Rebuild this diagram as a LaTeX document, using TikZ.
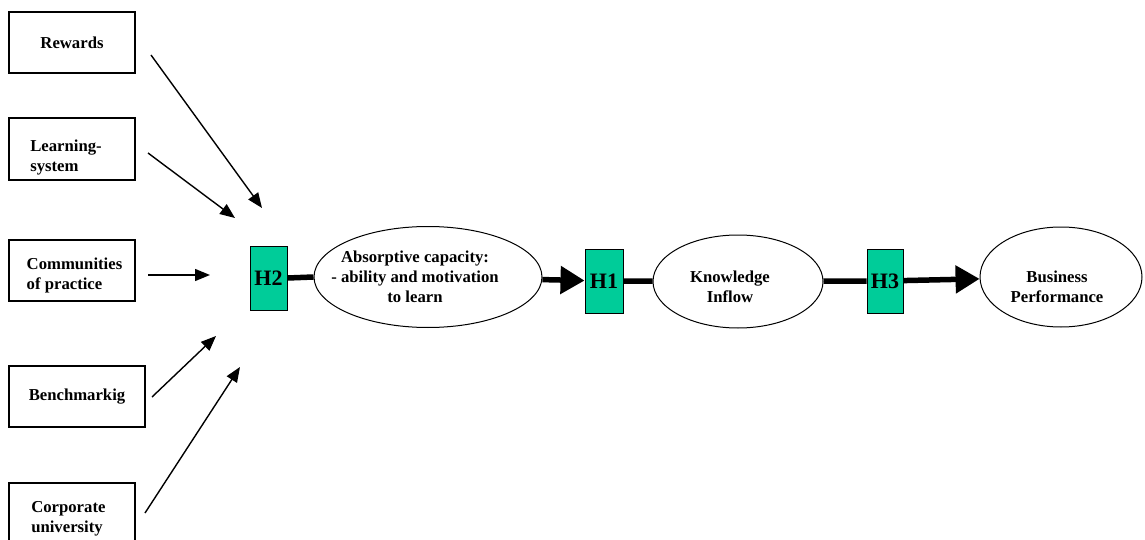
\documentclass[tikz,border=0pt]{standalone}
\usepackage{fontspec}
\setmainfont{Liberation Serif}
\usetikzlibrary{arrows.meta,shapes.geometric}
\definecolor{hteal}{HTML}{00CC99}
\begin{document}
\begin{tikzpicture}[x=1pt,y=-1pt,
  every node/.style={font=\bfseries\fontsize{16.7}{20}\selectfont},
  srcbox/.style={draw, line width=1.3pt, rectangle, align=left, inner sep=0pt},
  hbox/.style={draw, line width=1pt, fill=hteal, minimum width=37pt, minimum height=64pt, inner sep=0pt, font=\bfseries\fontsize{22}{24}\selectfont},
  oval/.style={draw, line width=1pt, ellipse, inner sep=0pt},
  lbl/.style={align=center, inner sep=0pt},
  thinarrow/.style={line width=1.4pt, -{Triangle[length=15pt,width=12pt]}},
  thickline/.style={line width=5.5pt},
  thickarrow/.style={line width=5.5pt, -{Triangle[length=24pt,width=27pt]}}
]
\useasboundingbox (0,0) rectangle (1145,540);
\clip (0,0) rectangle (1145,540);

% source boxes
\node[srcbox, minimum width=126pt, minimum height=61pt] (rew) at (72,42.5) {Rewards};
\node[srcbox, minimum width=126pt, minimum height=62pt] (lrn) at (72,149) {\rule{0pt}{29pt}Learning-\hspace*{12pt}\\system};
\node[srcbox, minimum width=126pt, minimum height=61pt] (com) at (72,270.5) {\hspace*{5pt}\rule{0pt}{22pt}Communities\\\hspace*{5pt}of practice};
\node[srcbox, minimum width=136pt, minimum height=61pt] (ben) at (77,396.5) {Benchmarkig};
\node[srcbox, minimum width=126pt, minimum height=62pt] (cor) at (72,514) {\rule{0pt}{20pt}Corporate\\university\hspace*{10pt}};

% hypothesis boxes
\node[hbox] (h2) at (268.5,278) {H2};
\node[hbox, minimum width=38pt] (h1) at (604,281) {H1};
\node[hbox, minimum width=36pt] (h3) at (885,281) {H3};

% ellipses
\node[oval, minimum width=228pt, minimum height=101pt] (abs) at (428,277) {};
\node[lbl] (abstxt) at (415,277) {Absorptive capacity:\\- ability and motivation\\to learn};
\node[oval, minimum width=170pt, minimum height=93pt] (know) at (738,281.5) {};
\node[lbl] (knowtxt) at (730,287) {Knowledge\\Inflow};
\node[oval, minimum width=162pt, minimum height=100pt] (bus) at (1061,277) {};
\node[lbl] (bustxt) at (1057,287) {Business\\Performance};

% thin arrows
\coordinate (s1) at (151,55);  \coordinate (t1) at (262,208);
\coordinate (s2) at (148,153); \coordinate (t2) at (235,218);
\coordinate (s3) at (148,275); \coordinate (t3) at (210,275);
\coordinate (s4) at (152,397); \coordinate (t4) at (216,336);
\coordinate (s5) at (145,513); \coordinate (t5) at (240,367);
\draw[thinarrow] (s1) -- (t1);
\draw[thinarrow] (s2) -- (t2);
\draw[thinarrow] (s3) -- (t3);
\draw[thinarrow] (s4) -- (t4);
\draw[thinarrow] (s5) -- (t5);

% main chain
\draw[thickline] (h2.east) -- (abs.west);
\draw[thickarrow] (abs) -- (h1);
\draw[thickline] (h1) -- (know);
\draw[thickline] (know) -- (h3);
\draw[thickarrow] (h3) -- (bus);
\end{tikzpicture}
\end{document}
